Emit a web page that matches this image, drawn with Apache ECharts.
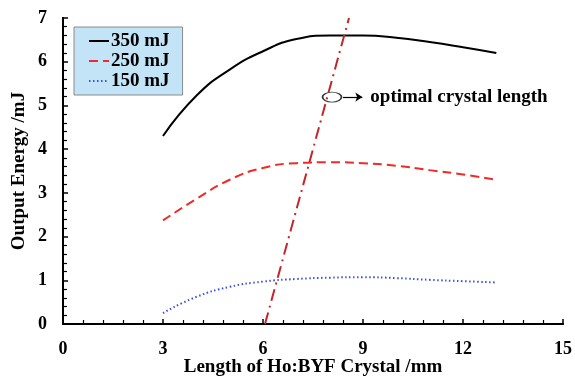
<!DOCTYPE html>
<html>
<head>
<meta charset="utf-8">
<script src="https://cdn.jsdelivr.net/npm/echarts@6/dist/echarts.min.js"></script>
<style>
  html, body { margin: 0; padding: 0; background: #fff; }
  #chart { width: 575px; height: 377px; }
</style>
</head>
<body>
<div id="chart"></div>
<script>
// crystal length, mm
var lengths = [3, 4, 5, 6, 7, 8, 9, 10, 11, 12, 13];
// output energy, mJ
var e350 = [4.3, 5.22, 5.82, 6.24, 6.52, 6.6, 6.6, 6.55, 6.45, 6.33, 6.2];
var e250 = [2.37, 2.86, 3.3, 3.57, 3.68, 3.7, 3.68, 3.62, 3.52, 3.42, 3.3];
var e150 = [0.25, 0.62, 0.85, 0.97, 1.03, 1.06, 1.07, 1.05, 1.01, 0.98, 0.95];
// optimal crystal length trend line
var optimalX = [6.06, 8.58];
var optimalY = [0, 7];
var legendNames = ['350 mJ', '250 mJ', '150 mJ'];

function pairs(xs, ys) {
    return xs.map(function (x, i) { return [x, ys[i]]; });
}

var font = "'Liberation Serif', 'Times New Roman', serif";
var txt = { fontFamily: font, fontWeight: 700, fontSize: 19, color: '#000' };
var tickTxt = { fontFamily: font, fontWeight: 700, fontSize: 18, color: '#000' };

var frame = {
    axisLine: { show: true, lineStyle: { color: '#000', width: 2 } },
    axisTick: { show: false }, axisLabel: { show: false }, splitLine: { show: false }
};

var chart = echarts.init(document.getElementById('chart'));
var option = {
    animation: false,
    grid: { left: 63, right: 12, top: 18, bottom: 53, containLabel: false, outerBoundsMode: 'none' },
    legend: {
        data: legendNames,
        orient: 'vertical',
        left: 74,
        top: 27,
        backgroundColor: '#c3e4f6',
        borderColor: '#8a8a8a',
        borderWidth: 1,
        borderRadius: 0,
        padding: [4, 13, 4, 14],
        itemGap: 0,
        itemWidth: 20,
        itemHeight: 14,
        itemStyle: { opacity: 0 },
        textStyle: { fontFamily: font, fontWeight: 700, fontSize: 19, color: '#000', padding: [0, 0, 0, -3], lineHeight: 20 }
    },
    xAxis: [{
        type: 'value',
        min: 0, max: 15, interval: 3,
        name: 'Length of Ho:BYF Crystal /mm',
        nameLocation: 'middle',
        nameGap: 34,
        nameMoveOverlap: false,
        nameTextStyle: txt,
        axisLine: { lineStyle: { color: '#000', width: 2 } },
        axisTick: { inside: true, length: 5, lineStyle: { color: '#000', width: 1.5 } },
        minorTick: { show: true, splitNumber: 5, length: 4, lineStyle: { color: '#000', width: 1.2 } },
        axisLabel: Object.assign({ margin: 16 }, tickTxt),
        splitLine: { show: false }
    }, Object.assign({ type: 'value', position: 'top', min: 0, max: 15 }, frame)],
    yAxis: [{
        type: 'value',
        min: 0, max: 7, interval: 1,
        name: 'Output Energy /mJ',
        nameLocation: 'middle',
        nameGap: 34,
        nameMoveOverlap: false,
        nameTextStyle: txt,
        axisLine: { lineStyle: { color: '#000', width: 2 } },
        axisTick: { inside: true, length: 5, lineStyle: { color: '#000', width: 1.5 } },
        minorTick: { show: true, splitNumber: 5, length: 4, lineStyle: { color: '#000', width: 1.2 } },
        axisLabel: Object.assign({ margin: 16 }, tickTxt),
        splitLine: { show: false }
    }, Object.assign({ type: 'value', position: 'right', min: 0, max: 7 }, frame)],
    series: [
        {
            name: '350 mJ', type: 'line', smooth: true, symbol: 'none',
            lineStyle: { color: '#000', width: 2, type: 'solid' },
            itemStyle: { color: '#000' },
            data: pairs(lengths, e350)
        },
        {
            name: '250 mJ', type: 'line', smooth: true, symbol: 'none',
            lineStyle: { color: '#f02a2a', width: 2, type: [9, 5] },
            itemStyle: { color: '#f02a2a' },
            data: pairs(lengths, e250)
        },
        {
            name: '150 mJ', type: 'line', smooth: true, symbol: 'none',
            lineStyle: { color: '#3d50d8', width: 2, type: [1.5, 2.5] },
            itemStyle: { color: '#3d50d8' },
            data: pairs(lengths, e150)
        },
        {
            name: 'optimal', type: 'line', symbol: 'none',
            lineStyle: { color: '#c0262c', width: 2, type: [12, 5, 2, 5] },
            data: pairs(optimalX, optimalY),
            markLine: {
                silent: true,
                symbol: ['none', 'arrow'],
                symbolSize: 7,
                lineStyle: { color: '#000', width: 1.2, type: 'solid' },
                label: Object.assign({
                    show: true, position: 'end', distance: 8,
                    formatter: 'optimal crystal length'
                }, txt),
                data: [[{ coord: [8.4, 5.19] }, { coord: [8.98, 5.19] }]]
            }
        },
        {
            name: 'marker', type: 'scatter',
            symbol: 'circle', symbolSize: [19, 10],
            itemStyle: { color: 'rgba(0,0,0,0)', borderColor: '#000', borderWidth: 1.3 },
            data: [[8.07, 5.19]],
            z: 5
        }
    ]
};
chart.setOption(option);
</script>
</body>
</html>
